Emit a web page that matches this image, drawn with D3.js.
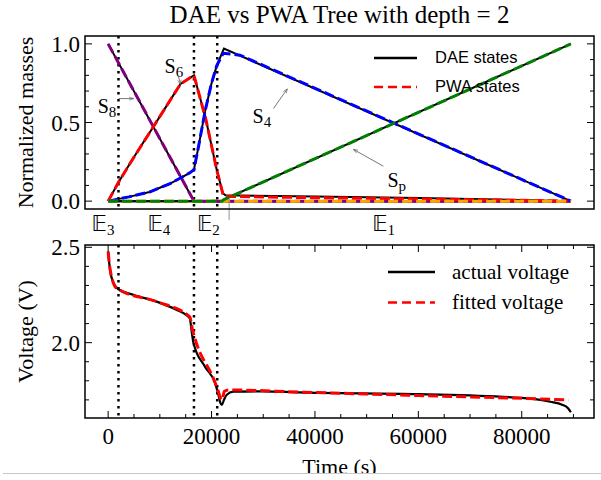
<!DOCTYPE html>
<html><head><meta charset="utf-8">
<script src="https://cdn.jsdelivr.net/npm/d3@7"></script>
<style>body{margin:0;background:#fff}svg{display:block}</style>
</head><body><div id="c"></div>
<script>
// ---------- data ----------
const title = "DAE vs PWA Tree with depth = 2";
const switchTimes = [2000, 16600, 21100];
const regionLabels = [{n:"3", t:-1000},{n:"4", t:9800},{n:"2", t:19400},{n:"1", t:53300}];

const s8Time = [0, 16600, 89500];
const s8Dae  = [1.0, 0.0, 0.0];
const s8Pwa  = [1.0, 0.0, 0.0];

const s6Time = [0, 2000, 5000, 8500, 11000, 14000, 16600, 18900, 21000, 22200, 22700, 40000, 60000, 80000, 89500];
const s6Dae  = [0, 0.12, 0.28, 0.46, 0.59, 0.745, 0.80, 0.52, 0.20, 0.05, 0.037, 0.030, 0.020, 0.008, 0.0];
const s6Pwa  = [0, 0.12, 0.28, 0.46, 0.59, 0.745, 0.80, 0.52, 0.20, 0.045, 0.030, 0.022, 0.014, 0.005, 0.0];

const s4Time = [0, 4000, 8000, 12000, 15800, 16600, 17500, 18800, 20000, 21000, 22000, 22400, 89500];
const s4Dae  = [0, 0.027, 0.058, 0.112, 0.18, 0.20, 0.35, 0.58, 0.75, 0.86, 0.94, 0.97, 0.0];
const s4PwaTime = [0, 4000, 8000, 12000, 15800, 16600, 17500, 18800, 20000, 21000, 22000, 22300, 25500, 89500];
const s4Pwa  = [0, 0.027, 0.058, 0.112, 0.18, 0.20, 0.35, 0.58, 0.75, 0.86, 0.925, 0.94, 0.928, 0.0];

const s2Time = [0, 89500];
const s2Dae  = [0, 0];
const s2Pwa  = [0, 0];

const spTime = [0, 22000, 22400, 89500];
const spDae  = [0, 0, 0.01, 1.0];
const spPwa  = [0, 0, 0.01, 1.0];

const vActTime = [0, 200, 500, 800, 1200, 2000, 5000, 9400, 13000, 15200, 15800, 16200, 16500, 18700, 20700, 21300, 21700, 22000, 22400, 22900, 24200, 30000, 37000, 60000, 80000, 85500, 87800, 89000, 89500];
const vAct     = [2.477, 2.42, 2.36, 2.33, 2.305, 2.28, 2.25, 2.215, 2.175, 2.143, 2.126, 2.05, 2.0, 1.875, 1.787, 1.73, 1.685, 1.674, 1.70, 1.726, 1.743, 1.745, 1.739, 1.730, 1.710, 1.690, 1.675, 1.655, 1.635];
const vFitTime = [0, 300, 800, 1300, 2000, 9400, 15800, 16300, 16700, 20700, 21300, 21700, 22000, 22500, 23300, 37000, 60000, 80000, 89000];
const vFit     = [2.477, 2.40, 2.33, 2.295, 2.28, 2.215, 2.135, 2.07, 2.03, 1.79, 1.745, 1.71, 1.70, 1.745, 1.752, 1.741, 1.723, 1.708, 1.70];

const xTicks = [0, 20000, 40000, 60000, 80000];
const yTopTicks = [0.0, 0.5, 1.0];
const yBotTicks = [2.0, 2.5];

const annotations = [
  {sub:"6", tx:10918, ty:0.816, x1:13623, y1:0.791, x2:14010, y2:0.741},
  {sub:"8", tx:-2029, ty:0.563, x1:2029, y1:0.652, x2:4928, y2:0.652},
  {sub:"4", tx:27923, ty:0.50, x1:31981, y1:0.589, x2:34686, y2:0.715},
  {sub:"p", tx:54010, ty:0.089, x1:53237, y1:0.222, x2:47440, y2:0.329}
];
const markerLine = {t:23400, v1:0.013, v2:-0.12};

// ---------- layout ----------
const W = 601, H = 480;
const L = 85, R = 594;
const top1 = 36, bot1 = 209, top2 = 245, bot2 = 418;
const serif = "'Liberation Serif','Times New Roman',serif";
const sans = "'Liberation Sans',Arial,sans-serif";

const svg = d3.select("#c").append("svg").attr("width", W).attr("height", H);
svg.append("defs").append("marker").attr("id","arr").attr("viewBox","0 0 10 10")
  .attr("refX",10).attr("refY",5).attr("markerWidth",6).attr("markerHeight",6)
  .attr("orient","auto").append("path").attr("d","M0,1.5L10,5L0,8.5").attr("fill","none").attr("stroke","#555").attr("stroke-width",1.2);

const x = d3.scaleLinear().domain([-4475, 93975]).range([L, R]);
const yT = d3.scaleLinear().domain([-0.05, 1.05]).range([bot1, top1]);
const yB = d3.scaleLinear().domain([1.605, 2.512]).range([bot2, top2]);

function zip(t, v){ return t.map((d,i)=>[d, v[i]]); }

const defs = svg.select("defs");
defs.append("clipPath").attr("id","cp1").append("rect").attr("x",L).attr("y",top1).attr("width",R-L).attr("height",bot1-top1);
defs.append("clipPath").attr("id","cp2").append("rect").attr("x",L).attr("y",top2).attr("width",R-L).attr("height",bot2-top2);

// title
svg.append("text").attr("x",(L+R)/2).attr("y",23).attr("text-anchor","middle")
  .attr("font-family",serif).attr("font-size",25).text(title);

// ---------- top plot ----------
const g1 = svg.append("g").attr("clip-path","url(#cp1)");
const lineT = d3.line().x(d=>x(d[0])).y(d=>yT(d[1]));
switchTimes.forEach(t=>{
  g1.append("line").attr("x1",x(t)).attr("x2",x(t)).attr("y1",top1).attr("y2",bot1)
    .attr("stroke","#000").attr("stroke-width",2.5).attr("stroke-dasharray","2.5,4.5");
});
const states = [
  {t:s8Time, dae:s8Dae, pt:s8Time, pwa:s8Pwa, c:"#800080"},
  {t:s6Time, dae:s6Dae, pt:s6Time, pwa:s6Pwa, c:"#ff0000"},
  {t:s4Time, dae:s4Dae, pt:s4PwaTime, pwa:s4Pwa, c:"#0000ff"},
  {t:s2Time, dae:s2Dae, pt:s2Time, pwa:s2Pwa, c:"#ffa500"},
  {t:spTime, dae:spDae, pt:spTime, pwa:spPwa, c:"#008000"}
];
states.forEach(s=>{
  g1.append("path").attr("d",lineT(zip(s.t,s.dae))).attr("fill","none")
    .attr("stroke","#000").attr("stroke-width",2);
});
states.forEach(s=>{
  g1.append("path").attr("d",lineT(zip(s.pt,s.pwa))).attr("fill","none")
    .attr("stroke",s.c).attr("stroke-width",3).attr("stroke-dasharray","10,4");
});

annotations.forEach(a=>{
  const t = svg.append("text").attr("x",x(a.tx)).attr("y",yT(a.ty))
    .attr("font-family",serif).attr("font-size",20).text("S");
  t.append("tspan").attr("dy",4).attr("font-size",15).text(a.sub);
  svg.append("line").attr("x1",x(a.x1)).attr("y1",yT(a.y1)).attr("x2",x(a.x2)).attr("y2",yT(a.y2))
    .attr("stroke","#555").attr("stroke-width",0.8).attr("marker-end","url(#arr)");
});
svg.append("line").attr("x1",x(markerLine.t)).attr("x2",x(markerLine.t))
  .attr("y1",yT(markerLine.v1)).attr("y2",yT(markerLine.v2)).attr("stroke","#777").attr("stroke-width",0.8);

regionLabels.forEach(r=>{
  const t = svg.append("text").attr("x",x(r.t)).attr("y",231).attr("text-anchor","middle")
    .attr("font-family","'DejaVu Sans','DejaVu Serif',sans-serif").attr("font-size",21).attr("fill","#000").text("\u{1D53C}");
  t.append("tspan").attr("dy",4).attr("font-family",serif).attr("font-size",15).text(r.n);
});

svg.append("rect").attr("x",L).attr("y",top1).attr("width",R-L).attr("height",bot1-top1)
  .attr("fill","none").attr("stroke","#000").attr("stroke-width",1.5);
const minorTop = d3.range(0, 11).map(d=>d/10).filter(d=>!yTopTicks.some(m=>Math.abs(m-d)<1e-9));
function yTicks(scale, majors, minors){
  majors.forEach(v=>{
    svg.append("line").attr("x1",L).attr("x2",L+7).attr("y1",scale(v)).attr("y2",scale(v)).attr("stroke","#000");
    svg.append("line").attr("x1",R-7).attr("x2",R).attr("y1",scale(v)).attr("y2",scale(v)).attr("stroke","#000");
    svg.append("text").attr("x",L-5).attr("y",scale(v)).attr("dy","0.35em").attr("text-anchor","end")
      .attr("font-family",serif).attr("font-size",23).text(v.toFixed(1));
  });
  minors.forEach(v=>{
    svg.append("line").attr("x1",L).attr("x2",L+4).attr("y1",scale(v)).attr("y2",scale(v)).attr("stroke","#000");
    svg.append("line").attr("x1",R-4).attr("x2",R).attr("y1",scale(v)).attr("y2",scale(v)).attr("stroke","#000");
  });
}
yTicks(yT, yTopTicks, minorTop);
svg.append("text").attr("transform",`translate(25,${(top1+bot1)/2}) rotate(-90)`).attr("text-anchor","middle")
  .attr("dy","0.35em").attr("font-family",serif).attr("font-size",22).text("Normalized masses");

svg.append("line").attr("x1",374).attr("x2",417).attr("y1",58).attr("y2",58).attr("stroke","#000").attr("stroke-width",2.5);
svg.append("text").attr("x",435).attr("y",63).attr("font-family",sans).attr("font-size",16.5).text("DAE states");
svg.append("line").attr("x1",374).attr("x2",417).attr("y1",87).attr("y2",87).attr("stroke","#ff0000").attr("stroke-width",2.5).attr("stroke-dasharray","9,5");
svg.append("text").attr("x",435).attr("y",92).attr("font-family",sans).attr("font-size",16.5).text("PWA states");

// ---------- bottom plot ----------
const g2 = svg.append("g").attr("clip-path","url(#cp2)");
switchTimes.forEach(t=>{
  g2.append("line").attr("x1",x(t)).attr("x2",x(t)).attr("y1",top2).attr("y2",bot2)
    .attr("stroke","#000").attr("stroke-width",2.5).attr("stroke-dasharray","2.5,4.5");
});
const lineB = d3.line().x(d=>x(d[0])).y(d=>yB(d[1])).curve(d3.curveMonotoneX);
g2.append("path").attr("d",lineB(zip(vActTime,vAct))).attr("fill","none").attr("stroke","#000").attr("stroke-width",2.2);
g2.append("path").attr("d",lineB(zip(vFitTime,vFit))).attr("fill","none").attr("stroke","#ff0000").attr("stroke-width",3).attr("stroke-dasharray","10,4");

svg.append("rect").attr("x",L).attr("y",top2).attr("width",R-L).attr("height",bot2-top2)
  .attr("fill","none").attr("stroke","#000").attr("stroke-width",1.5);
const minorBot = d3.range(17, 26).map(d=>d/10).filter(d=>!yBotTicks.some(m=>Math.abs(m-d)<1e-9));
yTicks(yB, yBotTicks, minorBot);
const minorX = d3.range(0, 95000, 5000).filter(d=>!xTicks.includes(d) && d<=93975);
xTicks.forEach(t=>{
  svg.append("line").attr("x1",x(t)).attr("x2",x(t)).attr("y1",bot2).attr("y2",bot2-7).attr("stroke","#000");
  svg.append("line").attr("x1",x(t)).attr("x2",x(t)).attr("y1",top2).attr("y2",top2+7).attr("stroke","#000");
  svg.append("text").attr("x",x(t)).attr("y",bot2+26).attr("text-anchor","middle")
    .attr("font-family",serif).attr("font-size",23).text(String(t));
});
minorX.forEach(t=>{
  svg.append("line").attr("x1",x(t)).attr("x2",x(t)).attr("y1",bot2).attr("y2",bot2-4).attr("stroke","#000");
  svg.append("line").attr("x1",x(t)).attr("x2",x(t)).attr("y1",top2).attr("y2",top2+4).attr("stroke","#000");
});
svg.append("text").attr("transform",`translate(25,${(top2+bot2)/2}) rotate(-90)`).attr("text-anchor","middle")
  .attr("dy","0.35em").attr("font-family",serif).attr("font-size",22).text("Voltage (V)");
svg.append("text").attr("x",(L+R)/2).attr("y",474).attr("text-anchor","middle")
  .attr("font-family",serif).attr("font-size",22).text("Time (s)");

svg.append("line").attr("x1",388).attr("x2",435).attr("y1",272).attr("y2",272).attr("stroke","#000").attr("stroke-width",2.5);
svg.append("text").attr("x",452).attr("y",279).attr("font-family",serif).attr("font-size",21).text("actual voltage");
svg.append("line").attr("x1",388).attr("x2",435).attr("y1",302.5).attr("y2",302.5).attr("stroke","#ff0000").attr("stroke-width",2.5).attr("stroke-dasharray","9,5");
svg.append("text").attr("x",452).attr("y",309).attr("font-family",serif).attr("font-size",21).text("fitted voltage");

svg.append("rect").attr("x",0).attr("y",473.5).attr("width",W).attr("height",H-473.5).attr("fill","#fff");
svg.append("line").attr("x1",3).attr("x2",W).attr("y1",473.5).attr("y2",473.5).attr("stroke","#c8c8c8").attr("stroke-width",1);
</script></body></html>
